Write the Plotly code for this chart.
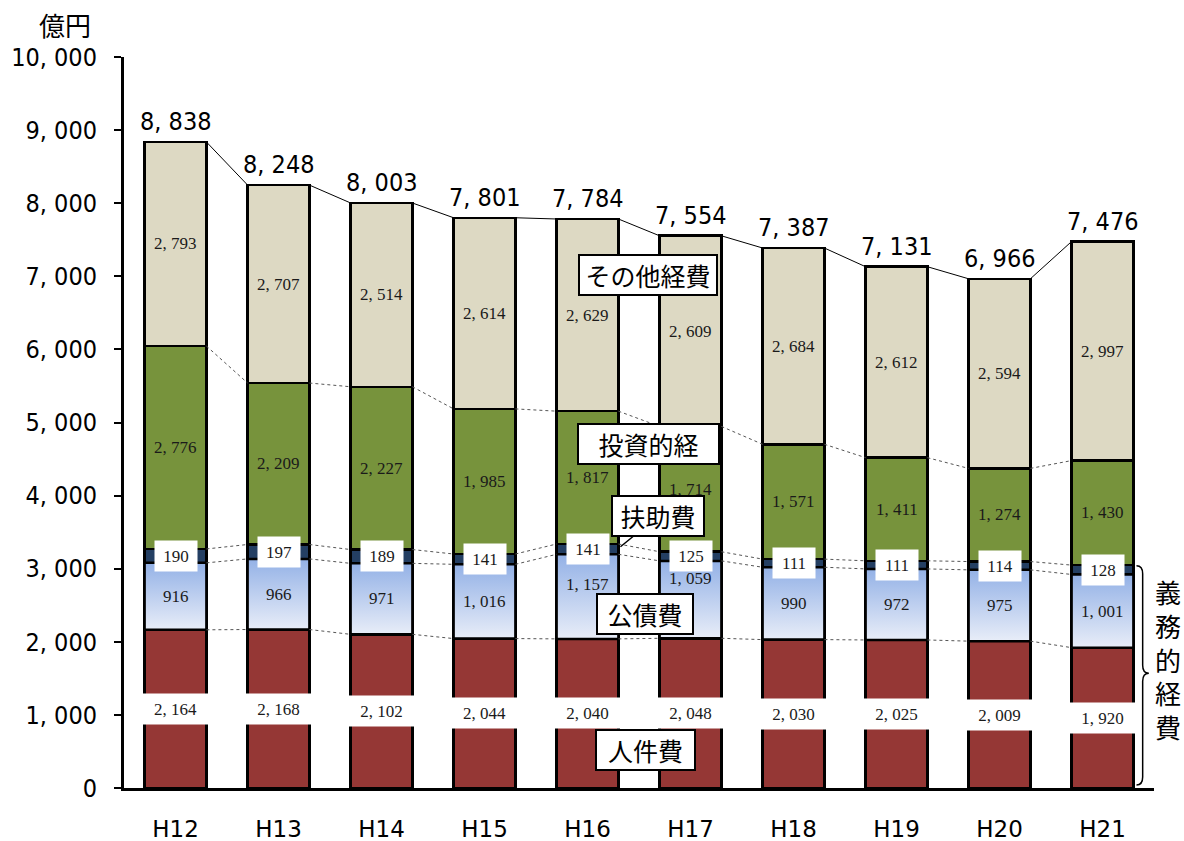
import plotly.graph_objects as go

# Fiscal years (Heisei) and expenditure by category, in 100 million yen
years = ["H12", "H13", "H14", "H15", "H16", "H17", "H18", "H19", "H20", "H21"]
personnel = [2164, 2168, 2102, 2044, 2040, 2048, 2030, 2025, 2009, 1920]      # 人件費
debt_service = [916, 966, 971, 1016, 1157, 1059, 990, 972, 975, 1001]          # 公債費
assistance = [190, 197, 189, 141, 141, 125, 111, 111, 114, 128]                # 扶助費
investment = [2776, 2209, 2227, 1985, 1817, 1714, 1571, 1411, 1274, 1430]      # 投資的経費
other = [2793, 2707, 2514, 2614, 2629, 2609, 2684, 2612, 2594, 2997]           # その他経費
totals = [8838, 8248, 8003, 7801, 7784, 7554, 7387, 7131, 6966, 7476]

y_ticks = [0, 1000, 2000, 3000, 4000, 5000, 6000, 7000, 8000, 9000, 10000]

BAR_W = 0.6
SANS = "DejaVu Sans Condensed, Liberation Sans Narrow, Arial Narrow, sans-serif"
JP = "Noto Sans CJK JP"
SERIF = "Liberation Serif, serif"

C_PERSONNEL = "#953735"
C_DEBT_TOP = "#93B1E6"
C_DEBT_BOTTOM = "#E8EDF8"
C_ASSIST = "#243F63"
C_INVEST = "#77933C"
C_OTHER = "#DDD9C3"


def fmt(v, sep=", "):
    return f"{v:,}".replace(",", sep)


x = list(range(len(years)))
series = [
    ("人件費", personnel, C_PERSONNEL),
    ("公債費", debt_service, "#BCCDEE"),
    ("扶助費", assistance, C_ASSIST),
    ("投資的経費", investment, C_INVEST),
    ("その他経費", other, C_OTHER),
]

fig = go.Figure()
for name, vals, col in series:
    fig.add_trace(go.Bar(
        x=x, y=vals, name=name, width=BAR_W,
        marker=dict(color=col, line=dict(color="black", width=2.5)),
        showlegend=False, hoverinfo="y+name",
    ))

# cumulative levels of each stacked segment
cum = []
run = [0] * len(years)
for _, vals, _ in series:
    base = run[:]
    run = [a + b for a, b in zip(run, vals)]
    cum.append((base, run[:]))

# gradient fill for the debt-service segments
for i in x:
    b, t = cum[1][0][i], cum[1][1][i]
    x0, x1 = i - BAR_W / 2, i + BAR_W / 2
    fig.add_trace(go.Scatter(
        x=[x0, x1, x1, x0, x0], y=[b, b, t, t, b],
        mode="lines", fill="toself",
        fillgradient=dict(type="vertical",
                          colorscale=[[0, C_DEBT_BOTTOM], [1, C_DEBT_TOP]]),
        line=dict(color="black", width=2.5),
        showlegend=False, hoverinfo="skip",
    ))


# connector lines between adjacent bars
def connector(levels, color, width, dash):
    xs, ys = [], []
    for i in range(len(levels) - 1):
        xs += [i + BAR_W / 2, i + 1 - BAR_W / 2, None]
        ys += [levels[i], levels[i + 1], None]
    fig.add_trace(go.Scatter(x=xs, y=ys, mode="lines",
                             line=dict(color=color, width=width, dash=dash),
                             showlegend=False, hoverinfo="skip"))


for k in range(4):
    connector(cum[k][1], "#555555", 1, "dot")
connector(totals, "black", 1, "solid")

annotations = []

# debt-service labels nudged up where the call-out box sits below them
debt_label_shift = {4: 12, 5: 21}

# segment value labels
for k, (name, vals, _) in enumerate(series):
    for i in x:
        mid = (cum[k][0][i] + cum[k][1][i]) / 2
        a = dict(x=i, y=mid, text=fmt(vals[i]), showarrow=False,
                 font=dict(family=SERIF, size=17, color="#1a1a1a"),
                 xanchor="center", yanchor="middle")
        if k == 0:
            a.update(bgcolor="white", width=63, height=28)
        elif k == 1:
            a.update(yshift=debt_label_shift.get(i, 0))
        elif k == 2:
            a.update(bgcolor="white", width=40, height=28)
        annotations.append(a)

# totals above the bars
for i in x:
    annotations.append(dict(x=i, y=totals[i], text=fmt(totals[i]),
                            showarrow=False, yanchor="bottom", yshift=4,
                            font=dict(family=SANS, size=25, color="black")))

# category call-outs
box = dict(showarrow=False, bgcolor="white", bordercolor="black", borderwidth=2,
           borderpad=1, font=dict(family=JP, size=25, color="black"))
annotations.append(dict(box, x=4.5, xshift=9, y=7018, text="その他経費", width=134))
annotations.append(dict(box, x=4.5, xshift=9, y=4706, text="投資的経", width=137))
annotations.append(dict(box, x=4.5, xshift=6, y=2380, text="公債費", width=92))
annotations.append(dict(box, x=4.5, xshift=6, y=520, text="人件費", width=95))
annotations.append(dict(box, x=4.32, y=3300, text="扶助費", width=88, showarrow=True,
                        arrowhead=0, arrowwidth=1.5, arrowcolor="black",
                        ax=38, ay=-31))

# unit and bracket label
annotations.append(dict(xref="paper", yref="paper", x=-0.057, y=1.044, text="億円",
                        xanchor="center", yanchor="middle",
                        showarrow=False, font=dict(family=JP, size=26, color="black")))
annotations.append(dict(xref="paper", yref="y", x=1.0136, y=1765,
                        xanchor="center", yanchor="middle",
                        text="義<br>務<br>的<br>経<br>費", showarrow=False,
                        font=dict(family=JP, size=26, color="black")))

# curly brace spanning the mandatory expenditure
top, bot, midy = 3040, 40, 1570
x0, x1, x2, d = 9.33, 9.39, 9.45, 110
brace = (f"M {x0},{top} Q {x1},{top} {x1},{top - d} L {x1},{midy + d} "
         f"Q {x1},{midy} {x2},{midy} Q {x1},{midy} {x1},{midy - d} "
         f"L {x1},{bot + d} Q {x1},{bot} {x0},{bot}")

fig.update_layout(
    width=1184, height=841,
    margin=dict(l=124, r=30, t=57, b=53, autoexpand=False),
    barmode="stack", bargap=0.4,
    plot_bgcolor="white", paper_bgcolor="white",
    annotations=annotations,
    shapes=[dict(type="path", path=brace, xref="x", yref="y",
                 line=dict(color="black", width=1.5))],
    xaxis=dict(range=[-0.5, 9.5], tickvals=x, ticktext=years, showgrid=False,
               showline=True, linecolor="black", linewidth=3, ticks="",
               zeroline=False, ticklabelstandoff=18, automargin=False,
               tickfont=dict(family="DejaVu Sans, sans-serif", size=23,
                             color="black")),
    yaxis=dict(range=[0, 10000], tickvals=y_ticks,
               ticktext=[fmt(v) for v in y_ticks], showgrid=False,
               showline=True, linecolor="black", linewidth=3,
               ticks="outside", ticklen=7, tickwidth=2, tickcolor="black",
               zeroline=False, ticklabelstandoff=12, automargin=False,
               tickfont=dict(family=SANS, size=25, color="black")),
)

fig.write_html("out.html")
